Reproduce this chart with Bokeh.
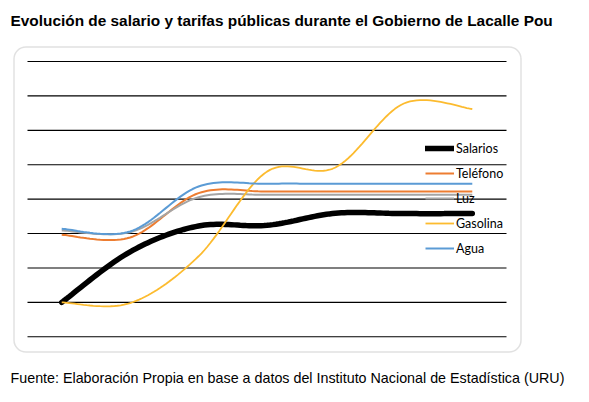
import numpy as np
from bokeh.plotting import figure
from bokeh.models import Legend, LegendItem, BoxAnnotation, Label, Range1d
from bokeh.embed import file_html
from bokeh.resources import INLINE

# ---- data (index, base 100) ----
periodos = [0, 1, 2, 3, 4, 5, 6]
salarios = [100.0, 107.35, 111.1, 111.2, 112.95, 112.9, 112.9]
telefono = [109.82, 109.43, 115.87, 116.11, 116.11, 116.11, 116.11]
luz = [110.45, 110.2, 115.28, 115.63, 115.63, 115.63, 115.63]
gasolina = [100.0, 99.9, 106.7, 119.0, 119.6, 128.9, 128.1]
agua = [110.69, 110.30, 116.84, 117.23, 117.23, 117.23, 117.23]
y_ticks = [95, 100, 105, 110, 115, 120, 125, 130, 135]

series_names = ["Salarios", "Teléfono", "Luz", "Gasolina", "Agua"]
series_vals = [salarios, telefono, luz, gasolina, agua]
colors = ["#000000", "#ED7D31", "#A5A5A5", "#FCBB2F", "#5B9BD5"]
widths = [5.5, 2, 2, 1.8, 2]

title_text = "Evolución de salario y tarifas públicas durante el Gobierno de Lacalle Pou"
source_text = "Fuente: Elaboración Propia en base a datos del Instituto Nacional de Estadística (URU)"


def smooth(xs, ys, n=24):
    """Excel-style smoothed line (Bezier through the points)."""
    P = np.column_stack([np.asarray(xs, float), np.asarray(ys, float)])
    m = len(P)
    out = []
    for i in range(m - 1):
        p0 = P[i - 1] if i > 0 else P[i]
        p1 = P[i]
        p2 = P[i + 1]
        p3 = P[i + 2] if i + 2 < m else P[i + 1]
        c1 = p1 + (p2 - p0) / 6.0
        c2 = p2 - (p3 - p1) / 6.0
        t = np.linspace(0, 1, n)[:, None]
        seg = ((1 - t) ** 3) * p1 + 3 * ((1 - t) ** 2) * t * c1 + 3 * (1 - t) * t ** 2 * c2 + t ** 3 * p2
        if i > 0:
            seg = seg[1:]
        out.append(seg)
    arr = np.vstack(out)
    return arr[:, 0], arr[:, 1]


# ---- layout: the plot area spans the whole figure ----
W, H = 581, 394
GRID_L, GRID_R = 27.0, 506.0      # pixel extent of the gridlines
GRID_T, GRID_B = 61.0, 336.3      # pixel positions of top / bottom gridline
x_lo = periodos[0] - 0.5
x_hi = periodos[-1] + 0.5
ppx = (GRID_R - GRID_L) / (x_hi - x_lo)
ppy = (GRID_B - GRID_T) / (y_ticks[-1] - y_ticks[0])


def X(px):
    return x_lo + (px - GRID_L) / ppx


def Y(py):
    return y_ticks[0] + (GRID_B - py) / ppy


p = figure(
    width=W, height=H,
    output_backend="svg", toolbar_location=None,
    x_axis_location=None, y_axis_location=None,
    x_range=Range1d(X(0), X(W)), y_range=Range1d(Y(H), Y(0)),
    min_border=0,
)
p.xgrid.visible = False
p.ygrid.visible = False
p.outline_line_color = None
p.background_fill_color = "white"
p.border_fill_color = "white"

# title and source
p.add_layout(Label(x=X(10), y=Y(20), text=title_text,
                   text_font="Liberation Sans", text_font_size="15.4px", text_font_style="bold",
                   text_color="#000000", text_baseline="alphabetic", text_align="left"))
p.add_layout(Label(x=X(10), y=Y(377.5), text=source_text,
                   text_font="Liberation Sans", text_font_size="14.3px",
                   text_color="#000000", text_baseline="alphabetic", text_align="left"))

# rounded chart-area frame
p.add_layout(BoxAnnotation(left=X(13.5), right=X(520.5), top=Y(46.5), bottom=Y(351.5),
                           fill_alpha=0, line_color="#9A9A9A", line_width=1.5, border_radius=12))

# horizontal gridlines
p.segment(x0=[x_lo] * len(y_ticks), x1=[x_hi] * len(y_ticks), y0=y_ticks, y1=y_ticks,
          line_color="#000000", line_width=1.1)

items = []
for name, vals, col, w in zip(series_names, series_vals, colors, widths):
    sx, sy = smooth(periodos, vals)
    r = p.line(sx, sy, line_color=col, line_width=w, line_cap="round" if w > 3 else "butt")
    items.append(LegendItem(label=name, renderers=[r]))

legend = Legend(items=items, location=(425, 136), orientation="vertical",
                glyph_width=29, glyph_height=20, label_height=20, spacing=5,
                label_standoff=2, padding=0, margin=0,
                label_text_font="Lato", label_text_font_size="12.5px", label_text_color="#000000",
                background_fill_alpha=0, border_line_color=None)
p.add_layout(legend)

open("out.html", "w").write(file_html(p, INLINE))
